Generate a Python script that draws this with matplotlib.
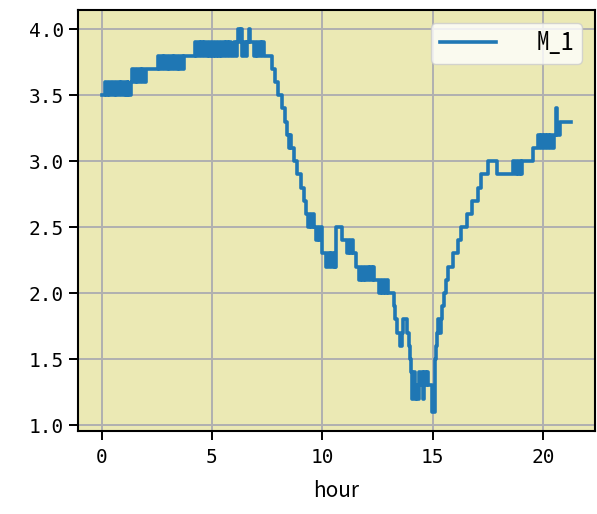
import matplotlib
matplotlib.use("Agg")
import matplotlib.pyplot as plt

# readings of M_1 (hour of day, value), step-wise
hour = [0.00, 0.15, 0.22, 0.30, 0.36, 0.45, 0.52, 0.60, 0.66, 0.75, 0.82, 0.90, 0.96, 1.05,
        1.10, 1.18, 1.22, 1.33, 1.40, 1.47, 1.55, 1.62, 1.70, 1.77, 1.85, 1.92, 2.00,
        2.55, 2.60, 2.70, 2.77, 2.85, 2.92, 3.00, 3.07, 3.15, 3.22, 3.30, 3.37, 3.45, 3.52,
        3.60, 3.67, 3.72,
        4.23, 4.30, 4.37, 4.44, 4.52, 4.59, 4.66, 4.73, 4.80, 4.87, 4.94, 5.01, 5.08, 5.15,
        5.22, 5.29, 5.36, 5.43, 5.50, 5.57, 5.64, 5.71, 5.78, 5.85,
        6.00, 6.07, 6.14, 6.20, 6.27, 6.32, 6.37, 6.45, 6.52, 6.60, 6.66, 6.74,
        6.92, 6.99, 7.06, 7.13, 7.20, 7.27, 7.34,
        7.70, 7.84, 7.97, 8.15, 8.33, 8.42, 8.48, 8.53, 8.58, 8.70, 8.87, 9.05, 9.19,
        9.28, 9.35, 9.42, 9.50, 9.56, 9.64, 9.71, 9.78, 9.86, 9.93,
        10.00, 10.18, 10.25, 10.33, 10.40, 10.47, 10.55, 10.58, 10.63, 10.90,
        11.13, 11.20, 11.27, 11.34, 11.40, 11.53,
        11.67, 11.74, 11.81, 11.88, 11.95, 12.02, 12.09, 12.16, 12.23, 12.30, 12.36,
        12.57, 12.64, 12.71, 12.78, 12.85, 12.92, 12.98,
        13.24, 13.30, 13.36, 13.52, 13.60, 13.64, 13.85, 13.92, 13.96,
        14.00, 14.05, 14.12, 14.18, 14.25, 14.30, 14.37, 14.44, 14.50, 14.56, 14.62, 14.68,
        14.74, 14.80, 14.95,
        15.08, 15.13, 15.18, 15.24, 15.28, 15.35, 15.40, 15.50, 15.60, 15.70, 15.90,
        16.15, 16.30, 16.55, 16.77, 17.05, 17.20, 17.50, 17.90,
        18.65, 18.72, 18.80, 18.86, 18.94, 19.00, 19.06, 19.55,
        19.77, 19.84, 19.91, 19.98, 20.05, 20.12, 20.19, 20.26, 20.33, 20.40, 20.47,
        20.58, 20.62, 20.75, 21.28]

m1 = [3.5, 3.6, 3.5, 3.6, 3.5, 3.6, 3.5, 3.6, 3.5, 3.6, 3.5, 3.6, 3.5, 3.6,
      3.5, 3.6, 3.5, 3.6, 3.7, 3.6, 3.7, 3.6, 3.7, 3.6, 3.7, 3.6, 3.7,
      3.8, 3.7, 3.8, 3.7, 3.8, 3.7, 3.8, 3.7, 3.8, 3.7, 3.8, 3.7, 3.8, 3.7,
      3.8, 3.7, 3.8,
      3.9, 3.8, 3.9, 3.8, 3.9, 3.8, 3.9, 3.8, 3.9, 3.8, 3.9, 3.8, 3.9, 3.8,
      3.9, 3.8, 3.9, 3.8, 3.9, 3.8, 3.9, 3.8, 3.9, 3.8,
      3.9, 3.8, 3.9, 4.0, 3.9, 4.0, 3.8, 3.9, 3.8, 3.9, 4.0, 3.9,
      3.8, 3.9, 3.8, 3.9, 3.8, 3.9, 3.8,
      3.7, 3.6, 3.5, 3.4, 3.3, 3.2, 3.1, 3.2, 3.1, 3.0, 2.9, 2.8, 2.7,
      2.6, 2.5, 2.6, 2.5, 2.6, 2.5, 2.4, 2.5, 2.4, 2.5,
      2.3, 2.2, 2.3, 2.2, 2.3, 2.2, 2.3, 2.2, 2.5, 2.4,
      2.3, 2.4, 2.3, 2.4, 2.3, 2.2,
      2.1, 2.2, 2.1, 2.2, 2.1, 2.2, 2.1, 2.2, 2.1, 2.2, 2.1,
      2.0, 2.1, 2.0, 2.1, 2.0, 2.1, 2.0,
      1.9, 1.8, 1.7, 1.6, 1.7, 1.8, 1.7, 1.6, 1.5,
      1.4, 1.2, 1.4, 1.2, 1.3, 1.2, 1.4, 1.3, 1.4, 1.2, 1.4, 1.3,
      1.4, 1.3, 1.1,
      1.5, 1.6, 1.7, 1.8, 1.7, 1.8, 1.9, 2.0, 2.1, 2.2, 2.3,
      2.4, 2.5, 2.6, 2.7, 2.8, 2.9, 3.0, 2.9,
      3.0, 2.9, 3.0, 2.9, 3.0, 2.9, 3.0, 3.1,
      3.2, 3.1, 3.2, 3.1, 3.2, 3.1, 3.2, 3.1, 3.2, 3.1, 3.2,
      3.4, 3.2, 3.3, 3.3]

mono = ['Noto Sans Mono CJK JP', 'DejaVu Sans Mono']
sans = ['Noto Sans CJK JP', 'DejaVu Sans']

fig = plt.figure(figsize=(5.97, 5.14), dpi=100)
ax = fig.add_axes([0.1307, 0.1615, 0.8659, 0.8190])
ax.set_facecolor('#ebe9b4')

ax.plot(hour, m1, drawstyle='steps-post', color='#1f77b4', lw=2.6, label='M_1')

ax.grid(True, color='#b0b0b0', lw=1.4)
ax.set_axisbelow(True)
for s in ax.spines.values():
    s.set_linewidth(1.5)

ax.set_xticks([0, 5, 10, 15, 20])
ax.set_yticks([1.0, 1.5, 2.0, 2.5, 3.0, 3.5, 4.0])
ax.tick_params(length=6.5, width=1.4)
ax.tick_params(axis='x', pad=6)
for lab in ax.get_xticklabels() + ax.get_yticklabels():
    lab.set_family(['DejaVu Sans Mono'])
    lab.set_fontsize(14)

ax.set_xlabel('hour', fontsize=15, family=sans, labelpad=9)

leg = ax.legend(loc='upper right', prop={'family': mono, 'size': 18},
                handlelength=2.24, handletextpad=1.6, borderpad=0.35,
                borderaxespad=0.5)

fig.savefig('out.png', dpi=100)
